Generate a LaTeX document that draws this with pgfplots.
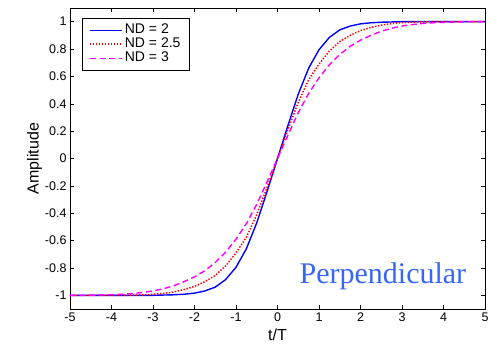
\documentclass[border=0pt]{standalone}
\usepackage{pgfplots}
\pgfplotsset{compat=1.18}
\usepackage{fontspec}
\setmainfont{Liberation Sans}
\newfontfamily\seriffont{Liberation Serif}
\definecolor{perp}{rgb}{0.22,0.40,0.97}
\definecolor{mblue}{rgb}{0,0,1}
\definecolor{mred}{rgb}{1,0,0}
\definecolor{mmag}{rgb}{1,0,1}
\begin{document}
\begin{tikzpicture}
\begin{axis}[
  name=ax,
  scale only axis,
  width=415pt, height=301pt,
  xmin=-5, xmax=5, ymin=-1.1, ymax=1.1,
  xtick={-5,-4,-3,-2,-1,0,1,2,3,4,5},
  ytick={-1,-0.8,-0.6,-0.4,-0.2,0,0.2,0.4,0.6,0.8,1},
  yticklabels={-1,-0.8,-0.6,-0.4,-0.2,0,0.2,0.4,0.6,0.8,1},
  /pgf/number format/assume math mode=true,
  tick label style={font=\fontsize{12.5}{14}\selectfont},
  major tick length=4pt,
  tick style={black, line width=0.5pt},
  axis line style={black, line width=0.6pt},
  xlabel={t/T}, ylabel={Amplitude},
  label style={font=\fontsize{16}{18}\selectfont},
  xlabel style={yshift=-1pt},
  ylabel style={yshift=-4pt},
  legend style={at={(0.029,0.967)}, anchor=north west, draw=black, line width=0.6pt,
    font=\fontsize{14}{15}\selectfont, inner xsep=7pt, inner ysep=5pt, row sep=0pt,
    nodes={inner xsep=2pt, inner ysep=0.5pt, text height=10pt, text depth=3pt}},
  legend cell align=left,
  legend image code/.code={\draw[#1] (0pt,0pt) -- (27pt,0pt); \path (0pt,0pt) -- (32pt,0pt);},
]
\addplot[mblue, line width=1.4pt] table {
x y
-5 -1
-4.5 -1
-4 -1
-3.5 -1
-3 -1
-2.75 -0.998
-2.5 -0.996
-2.25 -0.992
-2 -0.984
-1.75 -0.968
-1.5 -0.94
-1.25 -0.885
-1 -0.795
-0.75 -0.66
-0.5 -0.47
-0.25 -0.24
0 0
0.25 0.24
0.5 0.47
0.75 0.66
1 0.795
1.25 0.885
1.5 0.94
1.75 0.968
2 0.984
2.25 0.992
2.5 0.996
2.75 0.998
3 1
3.5 1
4 1
4.5 1
5 1
};
\addlegendentry{ND = 2}
\addplot[mred, line width=1.5pt, dash pattern=on 1.4pt off 1.6pt] table {
x y
-5 -1
-4.5 -1
-4 -1
-3.75 -1
-3.5 -0.999
-3.25 -0.997
-3 -0.993
-2.75 -0.986
-2.5 -0.975
-2.25 -0.958
-2 -0.935
-1.75 -0.9
-1.5 -0.855
-1.25 -0.785
-1 -0.69
-0.75 -0.575
-0.5 -0.41
-0.25 -0.21
0 0
0.25 0.21
0.5 0.41
0.75 0.575
1 0.69
1.25 0.785
1.5 0.855
1.75 0.9
2 0.935
2.25 0.958
2.5 0.975
2.75 0.986
3 0.993
3.25 0.997
3.5 0.999
3.75 1
4 1
4.5 1
5 1
};
\addlegendentry{ND = 2.5\hspace{3pt}}
\addplot[mmag, line width=1.4pt, dash pattern=on 6pt off 3.5pt] table {
x y
-5 -1
-4.75 -1
-4.5 -0.999
-4.25 -0.997
-4 -0.995
-3.75 -0.992
-3.5 -0.987
-3.25 -0.979
-3 -0.968
-2.75 -0.952
-2.5 -0.93
-2.25 -0.9
-2 -0.865
-1.75 -0.82
-1.5 -0.76
-1.25 -0.685
-1 -0.59
-0.75 -0.475
-0.5 -0.335
-0.25 -0.17
0 0
0.25 0.17
0.5 0.335
0.75 0.475
1 0.59
1.25 0.685
1.5 0.76
1.75 0.82
2 0.865
2.25 0.9
2.5 0.93
2.75 0.952
3 0.968
3.25 0.979
3.5 0.987
3.75 0.992
4 0.995
4.25 0.997
4.5 0.999
4.75 1
5 1
};
\addlegendentry{ND = 3}
\node[font=\seriffont\fontsize{30}{32}\selectfont, text=perp] at (axis cs:2.54,-0.86) {Perpendicular};
\end{axis}
\path ([shift={(-70pt,-37pt)}]ax.south west) rectangle ([shift={(12pt,8pt)}]ax.north east);
\end{tikzpicture}
\end{document}
